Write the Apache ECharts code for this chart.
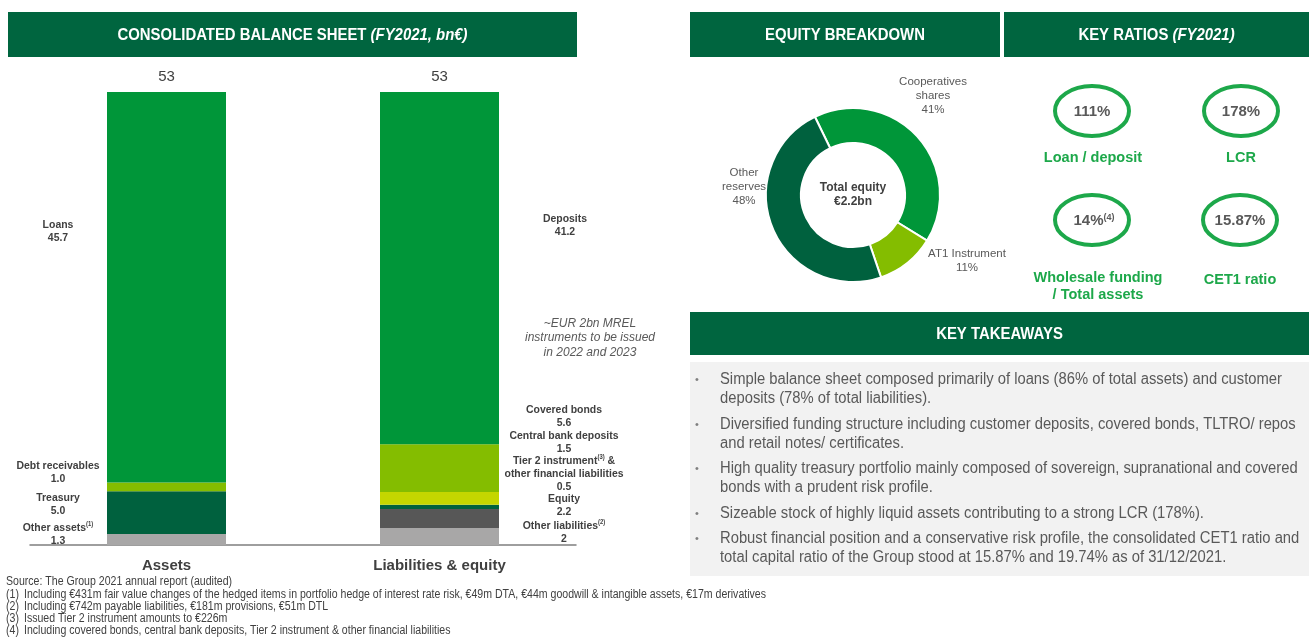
<!DOCTYPE html>
<html><head><meta charset="utf-8">
<script src="https://cdn.jsdelivr.net/npm/echarts@6/dist/echarts.min.js"></script>
<style>html,body{margin:0;padding:0;background:#fff}#c{width:1309px;height:637px}</style>
</head><body><div id="c"></div>
<script>
// ---------- DATA ----------
const barCategories = ['Assets', 'Liabilities & equity'];
const totals = [53, 53];
const assetNames = ['Other assets', 'Treasury', 'Debt receivables', 'Loans'];
const assetVals = [1.3, 5.0, 1.0, 45.7];
const liabNames = ['Other liabilities', 'Equity', 'Tier 2 instrument & other financial liabilities', 'Central bank deposits', 'Covered bonds', 'Deposits'];
const liabVals = [2, 2.2, 0.5, 1.5, 5.6, 41.2];
const equityNames = ['Cooperatives shares', 'AT1 Instrument', 'Other reserves'];
const equityPct = [41, 11, 48];
const ratioValues = ['111%', '178%', '14%', '15.87%'];
const ratioLabels = ['Loan / deposit', 'LCR', 'Wholesale funding\n/ Total assets', 'CET1 ratio'];
const takeaways = [
  'Simple balance sheet composed primarily of loans (86% of total assets) and customer\ndeposits (78% of total liabilities).',
  'Diversified funding structure including customer deposits, covered bonds, TLTRO/ repos\nand retail notes/ certificates.',
  'High quality treasury portfolio mainly composed of sovereign, supranational and covered\nbonds with a prudent risk profile.',
  'Sizeable stock of highly liquid assets contributing to a strong LCR (178%).',
  'Robust financial position and a conservative risk profile, the consolidated CET1 ratio and\ntotal capital ratio of the Group stood at 15.87% and 19.74% as of 31/12/2021.'
];
const footnotes = [
  ['(1)', 'Including €431m fair value changes of the hedged items in portfolio hedge of interest rate risk, €49m DTA, €44m goodwill & intangible assets, €17m derivatives'],
  ['(2)', 'Including €742m payable liabilities, €181m provisions, €51m DTL'],
  ['(3)', 'Issued Tier 2 instrument amounts to €226m'],
  ['(4)', 'Including covered bonds, central bank deposits, Tier 2 instrument & other financial liabilities']
];
const sourceNote = 'Source: The Group 2021 annual report (audited)';
const mrelNote = '~EUR 2bn MREL\ninstruments to be issued\nin 2022 and 2023';

// ---------- STYLE ----------
const REG = "'Liberation Sans',Arial,sans-serif";
const HDR = '#00653F';
const TXT = '#404040';
const GRN = '#1DA84A';
const assetColors = ['#A8A7A7', '#00613E', '#84BD00', '#009639'];
const liabColors = ['#A8A7A7', '#575757', '#00613E', '#C4D600', '#84BD00', '#009639'];
const pieColors = ['#009639', '#84BD00', '#00613E'];

const mctx = document.createElement('canvas').getContext('2d');
function fitScale(font, text, target) { mctx.font = font; return target / mctx.measureText(text).width; }

const series = [];
const totalLabel = (t) => ({ show: true, position: 'top', distance: 8, formatter: String(t), fontFamily: REG, fontSize: 15, color: TXT });
assetVals.forEach((v, i) => {
  const d0 = (i === assetVals.length - 1) ? { value: v, label: totalLabel(totals[0]) } : v;
  series.push({ type: 'bar', name: assetNames[i], stack: 'bs', barWidth: 119, data: [d0, '-'], itemStyle: { color: assetColors[i] } });
});
liabVals.forEach((v, i) => {
  const d1 = (i === liabVals.length - 1) ? { value: v, label: totalLabel(totals[1]) } : v;
  series.push({ type: 'bar', name: liabNames[i], stack: 'bs', barWidth: 119, data: ['-', d1], itemStyle: { color: liabColors[i] } });
});
series.push({
  type: 'pie', center: [853, 195], radius: [52, 87], startAngle: 116,
  label: { show: false }, labelLine: { show: false }, silent: true,
  itemStyle: { borderColor: '#fff', borderWidth: 2 },
  data: equityNames.map((n, i) => ({ name: n, value: equityPct[i], itemStyle: { color: pieColors[i] } }))
});

const G = [];
function txt(x, y, text, o) {
  o = o || {};
  G.push({ type: 'text', x: x, y: y, z: 10, scaleX: o.sx || 1, style: Object.assign({ text: text, fill: TXT, font: o.font || ('11px ' + REG), textAlign: o.align || 'center', textVerticalAlign: o.valign || 'middle', lineHeight: o.lh }, o.extra || {}) });
}
// headers
const hdFont = 'bold 16.5px ' + REG;
const hdScale = fitScale(hdFont, 'CONSOLIDATED BALANCE SHEET (FY2021, bn€)', 350);
function header(x, y, w, h, main, ital) {
  G.push({ type: 'rect', shape: { x: x, y: y, width: w, height: h }, style: { fill: HDR } });
  G.push({ type: 'text', x: x + w / 2, y: y + h / 2 + 1, z: 10, scaleX: hdScale, style: {
    text: '{a|' + main + '}' + (ital ? '{b|' + ital + '}' : ''), textAlign: 'center', textVerticalAlign: 'middle',
    rich: { a: { fill: '#fff', font: hdFont }, b: { fill: '#fff', font: 'italic ' + hdFont } } } });
}
header(8, 12, 569, 45, 'CONSOLIDATED BALANCE SHEET ', '(FY2021, bn€)');
header(690, 12, 310, 45, 'EQUITY BREAKDOWN');
header(1004, 12, 305, 45, 'KEY RATIOS ', '(FY2021)');
header(690, 312, 619, 43, 'KEY TAKEAWAYS');
// takeaways box
G.push({ type: 'rect', shape: { x: 690, y: 362, width: 619, height: 214 }, style: { fill: '#F2F2F2' } });
const tkFont = '16px ' + REG;
const tkScale = fitScale(tkFont, takeaways[0].split('\n')[0], 562);
const tkTop = [369.5, 414.5, 458.5, 503.5, 528.5];
takeaways.forEach((t, i) => {
  G.push({ type: 'text', x: 697, y: tkTop[i] + 10, z: 10, style: { text: '•', fill: '#7F7F7F', font: '11px ' + REG, textAlign: 'center', textVerticalAlign: 'middle' } });
  txt(720, tkTop[i], t, { font: tkFont, align: 'left', valign: 'top', lh: 19.5, sx: tkScale, extra: { fill: '#595959' } });
});
// footnotes
const fnFont = '12.5px ' + REG;
const fnScale = fitScale(fnFont, footnotes[0][1], 742);
txt(6, 582, sourceNote, { font: fnFont, align: 'left', sx: fnScale });
footnotes.forEach((f, i) => {
  const y = 595 + i * 12;
  txt(6, y, f[0], { font: fnFont, align: 'left', sx: fnScale });
  txt(24, y, f[1], { font: fnFont, align: 'left', sx: fnScale });
});
// bar segment labels
const BL = 'bold 11.5px ' + REG;
const blScale = fitScale(BL, 'other financial liabilities', 119);
const supRich = { m: { font: BL, fill: TXT, lineHeight: 13 }, s: { font: 'bold 6.5px ' + REG, fill: TXT, verticalAlign: 'top', padding: [0, 0, 5, 0], lineHeight: 13 } };
function blab(x, y, text) {
  G.push({ type: 'text', x: x, y: y, z: 10, scaleX: blScale, style: { text: text, textAlign: 'center', textVerticalAlign: 'top', rich: supRich } });
}
function two(name, sup, val) { return '{m|' + name + '}' + (sup ? '{s|' + sup + '}' : '') + '\n{m|' + val + '}'; }
blab(58, 218, two(assetNames[3], '', assetVals[3].toFixed(1)));
blab(58, 459, two(assetNames[2], '', assetVals[2].toFixed(1)));
blab(58, 491, two(assetNames[1], '', assetVals[1].toFixed(1)));
blab(58, 521, two(assetNames[0], '(1)', assetVals[0].toFixed(1)));
blab(565, 212, two(liabNames[5], '', liabVals[5].toFixed(1)));
blab(564, 403, two(liabNames[4], '', liabVals[4].toFixed(1)));
blab(564, 429, two(liabNames[3], '', liabVals[3].toFixed(1)));
blab(564, 454, '{m|Tier 2 instrument}{s|(3)}{m| &}\n{m|other financial liabilities}\n{m|' + liabVals[2].toFixed(1) + '}');
blab(564, 492, two(liabNames[1], '', liabVals[1].toFixed(1)));
blab(564, 519, two(liabNames[0], '(2)', String(liabVals[0])));
txt(590, 338, mrelNote, { font: 'italic 12px ' + REG, lh: 14.5, extra: { fill: '#595959' } });
// donut labels
const DL = { font: '11.5px ' + REG, lh: 14, extra: { fill: '#595959' } };
txt(933, 96, 'Cooperatives\nshares\n' + equityPct[0] + '%', DL);
txt(967, 261, equityNames[1] + '\n' + equityPct[1] + '%', DL);
txt(744, 187, 'Other\nreserves\n' + equityPct[2] + '%', DL);
txt(853, 195, 'Total equity\n€2.2bn', { font: 'bold 12px ' + REG, lh: 14 });
// key ratios
const centers = [[1092, 111], [1241, 111], [1092, 220], [1240, 220]];
const labY = [158, 158, 286, 280];
const labX = [1093, 1241, 1098, 1240];
centers.forEach((c, i) => {
  G.push({ type: 'ellipse', shape: { cx: c[0], cy: c[1], rx: 37, ry: 25 }, style: { fill: 'none', stroke: GRN, lineWidth: 4 } });
  if (i === 2) {
    G.push({ type: 'text', x: c[0] + 2, y: c[1] + 1, z: 10, style: { text: '{v|' + ratioValues[i] + '}{s|(4)}', textAlign: 'center', textVerticalAlign: 'middle',
      rich: { v: { font: 'bold 15px ' + REG, fill: '#595959' }, s: { font: 'bold 9px ' + REG, fill: '#595959', verticalAlign: 'top', padding: [0, 0, 4, 0] } } } });
  } else {
    txt(c[0], c[1] + 1, ratioValues[i], { font: 'bold 15px ' + REG, extra: { fill: '#595959' } });
  }
  txt(labX[i], labY[i], ratioLabels[i], { font: 'bold 14.5px ' + REG, lh: 17, extra: { fill: GRN } });
});

const chart = echarts.init(document.getElementById('c'), null, { renderer: 'canvas' });
chart.setOption({
  animation: false,
  backgroundColor: '#fff',
  grid: { left: 30, right: 733, top: 92, bottom: 92, containLabel: false },
  xAxis: { type: 'category', data: barCategories,
    axisLine: { lineStyle: { color: '#7F7F7F', width: 1.5 } }, axisTick: { show: false },
    axisLabel: { margin: 13, fontFamily: REG, fontWeight: 'bold', fontSize: 15, color: TXT } },
  yAxis: { type: 'value', min: 0, max: 53, show: false },
  series: series,
  graphic: G
});
</script></body></html>
